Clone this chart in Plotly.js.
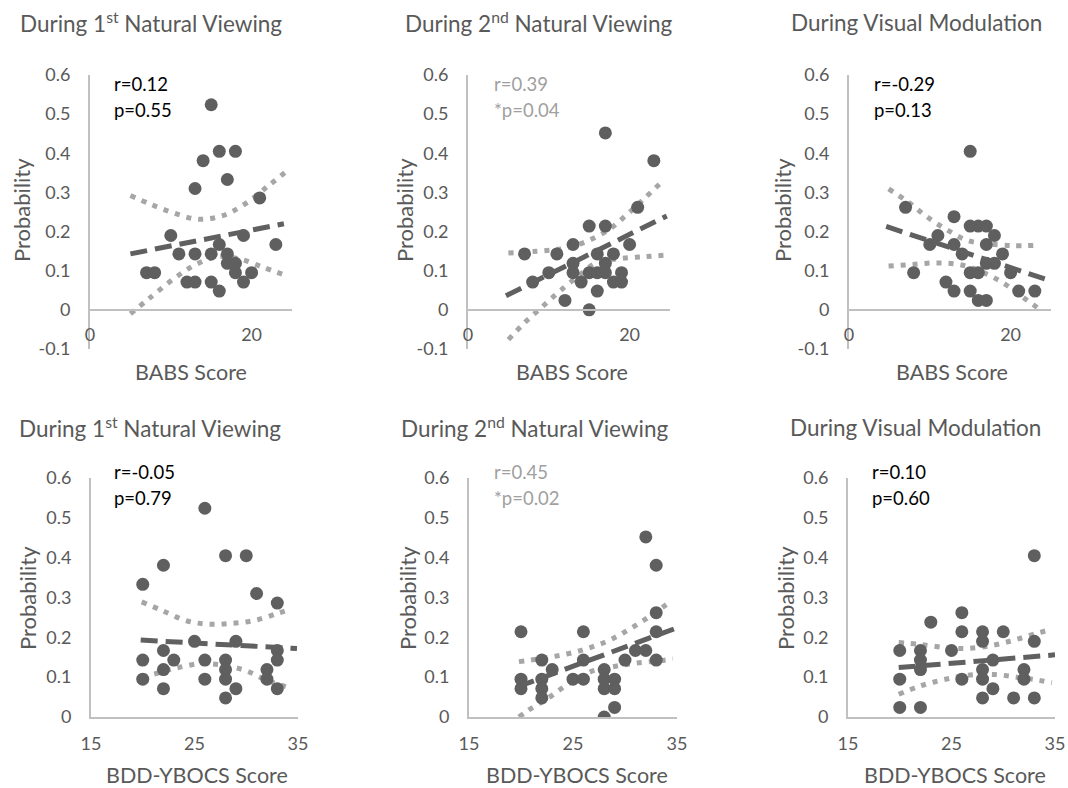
<!DOCTYPE html>
<html><head><meta charset="utf-8">
<script src="https://cdn.plot.ly/plotly-3.0.1.min.js"></script>
<style>html,body{margin:0;padding:0;background:#fff}#chart{width:1068px;height:788px}</style>
</head><body><div id="chart"></div>
<script>
// ---------- DATA ----------
const panelTitles = ['During 1<sup>st</sup> Natural Viewing','During 2<sup>nd</sup> Natural Viewing','During Visual Modulation',
                     'During 1<sup>st</sup> Natural Viewing','During 2<sup>nd</sup> Natural Viewing','During Visual Modulation'];
const statR = ['r=0.12','r=0.39','r=-0.29','r=-0.05','r=0.45','r=0.10'];
const statP = ['p=0.55','*p=0.04','p=0.13','p=0.79','*p=0.02','p=0.60'];
const significant = [false,true,false,false,true,false];
const xTitles = ['BABS Score','BABS Score','BABS Score','BDD-YBOCS Score','BDD-YBOCS Score','BDD-YBOCS Score'];
const yTitle = 'Probability';

const topYTicks = [-0.1,0,0.1,0.2,0.3,0.4,0.5,0.6];
const topYLabels = ['-0.1','0','0.1','0.2','0.3','0.4','0.5','0.6'];
const botYTicks = [0,0.1,0.2,0.3,0.4,0.5,0.6];
const botYLabels = ['0','0.1','0.2','0.3','0.4','0.5','0.6'];
const topXTicks = [0,20];
const botXTicks = [15,25,35];

// Panel 1: BABS vs 1st natural viewing
const p1x = [15,16,18,14,17,13,21,10,19,23,16,11,13,15,17,17,18,7,8,18,20,12,13,15,19,16];
const p1y = [0.524,0.405,0.405,0.381,0.333,0.31,0.286,0.19,0.19,0.167,0.167,0.143,0.143,0.143,0.143,0.119,0.119,0.095,0.095,0.095,0.095,0.071,0.071,0.071,0.071,0.048];
const p1trendX = [5,24], p1trendY = [0.143,0.22];
const p1upX = [5,7.6,10.3,13.2,16,18.7,22.2,24.5], p1upY = [0.292,0.269,0.248,0.232,0.238,0.264,0.319,0.357];
const p1loX = [5,7.2,10.6,13.2,15.9,18.7,21.4,24.2], p1loY = [-0.01,0.027,0.083,0.117,0.136,0.129,0.109,0.088];

// Panel 2: BABS vs 2nd natural viewing
const p2x = [17,23,21,15,17,13,20,7,11,16,18,13,17,10,13,15,16,17,19,8,14,18,19,16,12,15];
const p2y = [0.452,0.381,0.262,0.214,0.214,0.167,0.167,0.143,0.143,0.143,0.143,0.119,0.119,0.095,0.095,0.095,0.095,0.095,0.095,0.071,0.071,0.071,0.071,0.048,0.024,0];
const p2trendX = [4.7,24.6], p2trendY = [0.036,0.24];
const p2upX = [5,9.3,12.2,14.8,17.5,19.8,21.9,24], p2upY = [0.145,0.151,0.158,0.176,0.206,0.246,0.286,0.327];
const p2loX = [5,7,9.2,11.3,13.7,15.9,18.8,21.9,24.7], p2loY = [-0.076,-0.033,0.008,0.047,0.087,0.12,0.131,0.136,0.14];

// Panel 3: BABS vs visual modulation
const p3x = [15,7,13,15,16,17,11,18,10,13,17,14,19,17,18,8,15,16,20,12,13,15,21,23,16,17];
const p3y = [0.405,0.262,0.238,0.214,0.214,0.214,0.19,0.19,0.167,0.167,0.167,0.143,0.143,0.119,0.119,0.095,0.095,0.095,0.095,0.071,0.048,0.048,0.048,0.048,0.024,0.024];
const p3trendX = [4.6,24.7], p3trendY = [0.213,0.076];
const p3upX = [4.9,7.3,9.5,12,14.7,17.1,20.2,23.2], p3upY = [0.309,0.276,0.24,0.206,0.177,0.169,0.164,0.165];
const p3loX = [4.9,7.9,10.8,13.6,16.1,19,21.4,23.7], p3loY = [0.112,0.116,0.12,0.116,0.1,0.07,0.034,0.0];

// Panel 4: BDD-YBOCS vs 1st natural viewing
const p4x = [26,28,30,22,20,31,33,25,29,22,33,20,23,26,28,33,22,28,32,20,26,28,32,22,29,33,28];
const p4y = [0.524,0.405,0.405,0.381,0.333,0.31,0.286,0.19,0.19,0.167,0.167,0.143,0.143,0.143,0.143,0.143,0.119,0.119,0.119,0.095,0.095,0.095,0.095,0.071,0.071,0.071,0.048];
const p4trendX = [19.8,34.9], p4trendY = [0.193,0.172];
const p4upX = [19.9,22,24.3,26.4,28.6,30.9,33,34.2], p4upY = [0.289,0.266,0.241,0.233,0.235,0.243,0.26,0.27];
const p4loX = [20,21,23.1,25.6,27.7,29.9,32,34.2], p4loY = [0.1,0.107,0.122,0.134,0.13,0.117,0.092,0.073];

// Panel 5: BDD-YBOCS vs 2nd natural viewing
const p5x = [32,33,33,20,26,33,31,32,22,26,30,33,23,28,20,22,25,26,28,29,20,22,28,29,22,29,28];
const p5y = [0.452,0.381,0.262,0.214,0.214,0.214,0.167,0.167,0.143,0.143,0.143,0.143,0.119,0.119,0.095,0.095,0.095,0.095,0.095,0.095,0.071,0.071,0.071,0.071,0.048,0.024,0];
const p5trendX = [19.7,34.7], p5trendY = [0.076,0.221];
const p5upX = [19.8,22,24.4,26.5,28.6,30.6,32.5,34.4], p5upY = [0.139,0.147,0.158,0.173,0.194,0.223,0.255,0.29];
const p5loX = [19.8,20.7,22.7,24.6,26.7,28.8,31,33.3,34.6], p5loY = [0,0.017,0.049,0.084,0.114,0.126,0.135,0.141,0.146];

// Panel 6: BDD-YBOCS vs visual modulation
const p6x = [33,26,23,26,28,30,28,33,20,22,25,22,29,22,28,32,20,26,28,32,29,28,31,33,20,22];
const p6y = [0.405,0.262,0.238,0.214,0.214,0.214,0.19,0.19,0.167,0.167,0.167,0.143,0.143,0.119,0.119,0.119,0.095,0.095,0.095,0.095,0.071,0.048,0.048,0.048,0.024,0.024];
const p6trendX = [19.9,35], p6trendY = [0.124,0.156];
const p6upX = [19.9,22,24.5,26.4,29,31.3,33.5,34.7], p6upY = [0.187,0.182,0.174,0.172,0.18,0.195,0.212,0.22];
const p6loX = [19.9,22,24.3,26.6,29,31.3,33.5,34.7], p6loY = [0.057,0.078,0.094,0.105,0.107,0.1,0.092,0.086];

// ---------- LAYOUT ----------
const W = 1068, H = 788;
const FONT = 'Lato, "Open Sans", sans-serif';
const TXT = '#595959';
const series = [
  {x:p1x,y:p1y,tx:p1trendX,ty:p1trendY,ux:p1upX,uy:p1upY,lx:p1loX,ly:p1loY},
  {x:p2x,y:p2y,tx:p2trendX,ty:p2trendY,ux:p2upX,uy:p2upY,lx:p2loX,ly:p2loY},
  {x:p3x,y:p3y,tx:p3trendX,ty:p3trendY,ux:p3upX,uy:p3upY,lx:p3loX,ly:p3loY},
  {x:p4x,y:p4y,tx:p4trendX,ty:p4trendY,ux:p4upX,uy:p4upY,lx:p4loX,ly:p4loY},
  {x:p5x,y:p5y,tx:p5trendX,ty:p5trendY,ux:p5upX,uy:p5upY,lx:p5loX,ly:p5loY},
  {x:p6x,y:p6y,tx:p6trendX,ty:p6trendY,ux:p6upX,uy:p6upY,lx:p6loX,ly:p6loY}
];
// pixel boxes: [left, right, top, bottom]
const boxes = [[90,292,75,349],[468,670,75,349],[849,1051,75,349],
               [91,298,478,717],[469,677,478,717],[848,1055,478,717]];
const titleCx = [151,538,916,150,534,915];
const titleCy = [22,22,22,427,427,427];
const statX = [112,492,872,112,492,870];
const statY = [84,472];
const yTitleX = [22,405,783,27,407,785];
const yTitleY = [210,210,210,598,598,598];
const xTitleX = [191,572,952,197,577,955];
const xTitleY = [372,372,372,775,775,775];

const px = v => v / W, py = v => 1 - v / H;
const traces = [], layout = {
  width: W, height: H, margin:{l:0,r:0,t:0,b:0}, showlegend:false,
  paper_bgcolor:'#fff', plot_bgcolor:'rgba(0,0,0,0)',
  font:{family:FONT,color:TXT,size:18}, annotations:[]
};

series.forEach((s,i) => {
  const n = i+1, xa = 'x'+(i?n:''), ya = 'y'+(i?n:'');
  const top = i < 3;
  const b = boxes[i];
  const xd = [px(b[0]), px(b[1])], yd = [py(b[3]), py(b[2])];
  const yr = top ? [-0.1,0.6] : [0,0.6];
  const xr = top ? [0,25] : [15,35];
  const bandStyle = {color:'#a6a6a6', width:5, dash:'5px,7px', shape:'spline'};
  traces.push({x:s.ux,y:s.uy,xaxis:xa,yaxis:ya,mode:'lines',line:bandStyle,hoverinfo:'skip'});
  traces.push({x:s.lx,y:s.ly,xaxis:xa,yaxis:ya,mode:'lines',line:bandStyle,hoverinfo:'skip'});
  traces.push({x:s.x,y:s.y,xaxis:xa,yaxis:ya,mode:'markers',marker:{size:13,color:'#5f5f5f'}});
  traces.push({x:s.tx,y:s.ty,xaxis:xa,yaxis:ya,mode:'lines',line:{color:'#606060',width:5,dash:'17px,8px'},hoverinfo:'skip'});

  const xaxis = {
    domain:xd, range:xr, showgrid:false, zeroline:false, showline:true,
    linecolor:'#c0c0c0', linewidth:2, tickmode:'array',
    tickvals: top ? topXTicks : botXTicks,
    ticks:'outside', ticklen:9, tickcolor:'rgba(0,0,0,0)',
    tickfont:{size:18,color:TXT,family:FONT}, fixedrange:true
  };
  if (top) {
    xaxis.anchor = 'free';
    xaxis.position = yd[0] + (0 - yr[0]) / (yr[1]-yr[0]) * (yd[1]-yd[0]);
  } else {
    xaxis.anchor = ya;
  }
  const yaxis = {
    domain:yd, range:yr, anchor:xa, showgrid:false, zeroline:false, showline:true,
    linecolor:'#c0c0c0', linewidth:2, tickmode:'array',
    tickvals: top ? topYTicks : botYTicks, ticktext: top ? topYLabels : botYLabels,
    ticks:'outside', ticklen:14, tickcolor:'rgba(0,0,0,0)',
    tickfont:{size:18,color:TXT,family:FONT}, fixedrange:true
  };
  layout['xaxis'+(i?n:'')] = xaxis;
  layout['yaxis'+(i?n:'')] = yaxis;

  const statColor = significant[i] ? '#a0a0a0' : '#000000';
  const sy = top ? statY[0] : statY[1];
  layout.annotations.push(
    {text:panelTitles[i],x:px(titleCx[i]),y:py(titleCy[i]),xref:'paper',yref:'paper',showarrow:false,
     xanchor:'center',yanchor:'middle',font:{size:22.5,color:TXT,family:FONT}},
    {text:statR[i],x:px(statX[i]),y:py(sy),xref:'paper',yref:'paper',showarrow:false,
     xanchor:'left',yanchor:'middle',font:{size:18.5,color:statColor,family:FONT}},
    {text:statP[i],x:px(statX[i]),y:py(sy+26),xref:'paper',yref:'paper',showarrow:false,
     xanchor:'left',yanchor:'middle',font:{size:18.5,color:statColor,family:FONT}},
    {text:yTitle,x:px(yTitleX[i]),y:py(yTitleY[i]),xref:'paper',yref:'paper',showarrow:false,
     xanchor:'center',yanchor:'middle',textangle:-90,font:{size:22,color:TXT,family:FONT}},
    {text:xTitles[i],x:px(xTitleX[i]),y:py(xTitleY[i]),xref:'paper',yref:'paper',showarrow:false,
     xanchor:'center',yanchor:'middle',font:{size:21.5,color:TXT,family:FONT}}
  );
});

Plotly.newPlot('chart', traces, layout, {staticPlot:true, displayModeBar:false});
</script>
</body></html>
